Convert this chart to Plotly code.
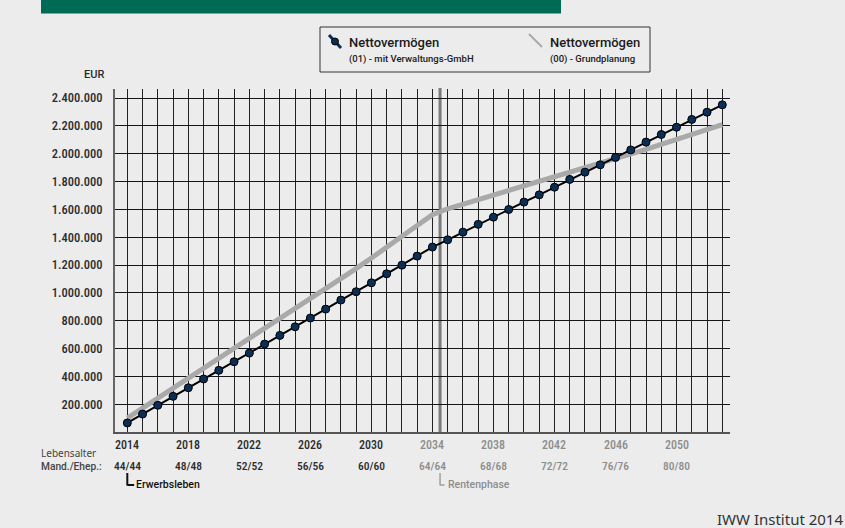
import plotly.graph_objects as go

# --- data -------------------------------------------------------------
years = list(range(2014, 2054))

# Nettovermögen (01) - mit Verwaltungs-GmbH, EUR
net_gmbh = [
    65000, 129000, 192000, 256000, 318000, 381000, 443000, 505000, 567000, 632000,
    694000, 756000, 819000, 883000, 948000, 1008000, 1072000, 1137000, 1199000, 1264000,
    1329000, 1381000, 1436000, 1492000, 1544000, 1599000, 1652000, 1704000, 1759000, 1815000,
    1867000, 1920000, 1973000, 2027000, 2083000, 2138000, 2190000, 2246000, 2298000, 2351000,
]

# Nettovermögen (00) - Grundplanung, EUR
net_base = [
    100000, 171000, 242000, 313000, 384000, 455000, 526000, 597000, 668000, 739000,
    810000, 881000, 952000, 1025000, 1099000, 1174000, 1250000, 1327000, 1405000, 1484000,
    1562000, 1604000, 1637000, 1669000, 1701000, 1733000, 1765000, 1797000, 1829000, 1861000,
    1893000, 1925000, 1960000, 1996000, 2031000, 2067000, 2102000, 2138000, 2173000, 2209000,
]

y_ticks = [200000, 400000, 600000, 800000, 1000000, 1200000, 1400000, 1600000,
           1800000, 2000000, 2200000, 2400000]
y_tick_text = [f"{v:,}".replace(",", ".") for v in y_ticks]

label_years = [2014, 2018, 2022, 2026, 2030, 2034, 2038, 2042, 2046, 2050]
age_labels = ["44/44", "48/48", "52/52", "56/56", "60/60",
              "64/64", "68/68", "72/72", "76/76", "80/80"]
retirement_start = 2034
retirement_year = 2034.5

# --- styling ----------------------------------------------------------
NARROW = "Roboto Condensed, Roboto, sans-serif"
WIDE = "Roboto, sans-serif"
PLAIN = "Noto Sans, sans-serif"
BG = "#ececec"
NAVY = "#0a2e55"
GREY_LINE = "#a9a9a9"
DARK_TXT = "#2b2b2b"
GREY_TXT = "#8c8c8c"

W, H = 845, 528
L, R, T, B = 115, 730, 89, 432  # plot area in pixels


def px(x):
    return (x - L) / (R - L)


def py(y):
    return (B - y) / (B - T)


fig = go.Figure()

fig.add_trace(go.Scatter(
    x=years, y=net_base, mode="lines",
    line=dict(color=GREY_LINE, width=5),
    hoverinfo="skip", showlegend=False,
))
fig.add_trace(go.Scatter(
    x=years, y=net_gmbh, mode="lines+markers",
    line=dict(color="#000000", width=2),
    marker=dict(size=8, color=NAVY, line=dict(color="#000000", width=1)),
    showlegend=False,
))

shapes = []
# retirement marker
shapes.append(dict(type="line", xref="x", yref="paper", x0=retirement_year, x1=retirement_year,
                   y0=0, y1=1.003, line=dict(color="#7a7a7a", width=3), layer="below"))
# header band
shapes.append(dict(type="rect", xref="paper", yref="paper", x0=px(41), x1=px(561),
                   y0=py(13.5), y1=py(-2), fillcolor="#006b54", line=dict(width=0)))
# legend box
shapes.append(dict(type="rect", xref="paper", yref="paper", x0=px(320), x1=px(650),
                   y0=py(72), y1=py(27), fillcolor=BG, line=dict(color="#333333", width=1)))
# legend symbols
shapes.append(dict(type="line", xref="paper", yref="paper", x0=px(329), y0=py(35),
                   x1=px(341), y1=py(48), line=dict(color=NAVY, width=3)))
shapes.append(dict(type="circle", xref="paper", yref="paper", x0=px(331.5), x1=px(338.5),
                   y0=py(45), y1=py(38), fillcolor=NAVY, line=dict(color="#000000", width=1)))
shapes.append(dict(type="line", xref="paper", yref="paper", x0=px(529), y0=py(34),
                   x1=px(542), y1=py(47), line=dict(color=GREY_LINE, width=2)))
# phase brackets
shapes.append(dict(type="line", xref="x", yref="paper", x0=years[0], x1=years[0],
                   y0=py(473), y1=py(485.5), line=dict(color="#111111", width=2)))
shapes.append(dict(type="line", xref="x", yref="paper", x0=years[0], x1=years[0] + 0.45,
                   y0=py(485), y1=py(485), line=dict(color="#111111", width=2)))
shapes.append(dict(type="line", xref="x", yref="paper", x0=retirement_year, x1=retirement_year,
                   y0=py(473), y1=py(485.5), line=dict(color="#a0a0a0", width=1.5)))
shapes.append(dict(type="line", xref="x", yref="paper", x0=retirement_year, x1=retirement_year + 0.3,
                   y0=py(485), y1=py(485), line=dict(color="#a0a0a0", width=1.5)))

ann = []


def text(x, y, s, size, color, anchor="left", xref="paper", weight=500, family=WIDE):
    ann.append(dict(
        x=x, y=y, xref=xref, yref="paper", text=s,
        showarrow=False, xanchor=anchor, yanchor="middle",
        font=dict(family=family, size=size, color=color, weight=weight),
    ))


# year and age rows under the x axis
for yr, age in zip(label_years, age_labels):
    c = DARK_TXT if yr < retirement_start else GREY_TXT
    text(yr, py(445), str(yr), 12, c, anchor="center", xref="x", family=NARROW)
    text(yr, py(466), age, 11.5, c, anchor="center", xref="x", family=NARROW)

text(px(39), py(452.5), "Lebensalter", 10, "#444444", weight=400, family=PLAIN)
text(px(39), py(466), "Mand./Ehep.:", 10.2, "#444444")
text(px(134), py(484), "Erwerbsleben", 10.5, "#111111")
text(px(446), py(484), "Rentenphase", 10.5, GREY_TXT)
text(px(106), py(75), "EUR", 11, DARK_TXT, anchor="right")

# legend texts
text(px(347), py(42.5), "Nettovermögen", 13, "#1a1a1a")
text(px(347), py(59), "(01) - mit Verwaltungs-GmbH", 9.5, "#1a1a1a")
text(px(548), py(42.5), "Nettovermögen", 13, "#1a1a1a")
text(px(548), py(59), "(00) - Grundplanung", 9.5, "#1a1a1a")

# source line
text(px(845), py(519), "IWW Institut 2014", 15, "#333333", anchor="right", weight=400, family=PLAIN)

fig.update_layout(
    width=W, height=H,
    margin=dict(l=L, r=W - R, t=T, b=H - B),
    paper_bgcolor=BG, plot_bgcolor=BG,
    font=dict(family=NARROW, color=DARK_TXT),
    shapes=shapes, annotations=ann,
    showlegend=False,
    xaxis=dict(
        range=[2013.194, 2053.505], tickvals=years, showticklabels=False,
        showgrid=True, gridcolor="#222222", gridwidth=1,
        showline=True, linecolor="#555555", linewidth=2,
        zeroline=False, ticks="", fixedrange=True,
    ),
    yaxis=dict(
        range=[0, 2464700], tickvals=y_ticks, ticktext=y_tick_text,
        showgrid=True, gridcolor="#151515", gridwidth=1,
        showline=True, linecolor="#666666", linewidth=2,
        zeroline=False, ticks="", ticklabelstandoff=8,
        tickfont=dict(family=NARROW, size=12.5, color=DARK_TXT, weight=500),
        fixedrange=True,
    ),
)

fig.write_html("out.html")
